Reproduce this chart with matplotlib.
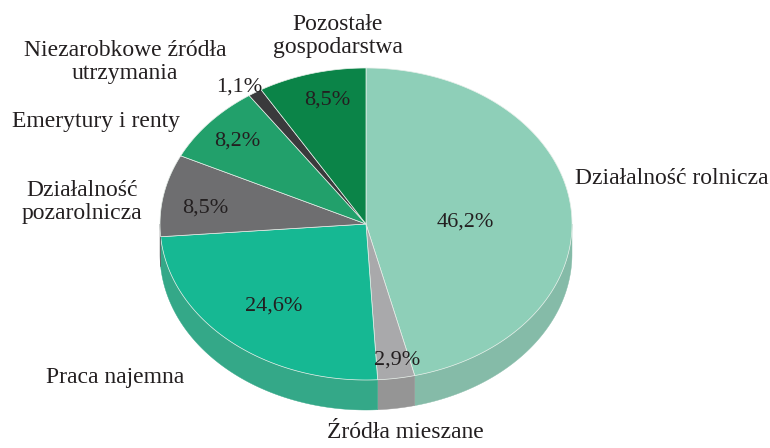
import numpy as np
import matplotlib
matplotlib.use('Agg')
import matplotlib.pyplot as plt
from matplotlib.patches import Polygon

# data, clockwise from 12 o'clock
categories = ['Działalność rolnicza', 'Źródła mieszane', 'Praca najemna',
              'Działalność\npozarolnicza', 'Emerytury i renty',
              'Niezarobkowe źródła\nutrzymania', 'Pozostałe\ngospodarstwa']
shares = [46.2, 2.9, 24.6, 8.5, 8.2, 1.1, 8.5]

top_colors = ['#8ecfb8', '#a9a9ab', '#16b893', '#6e6e70', '#22a06b', '#3a3a3c', '#0b8448']
side_colors = ['#85bba8', '#959595', '#34a888', '#5e5e60', '#1d8a5c', '#2e2e30', '#0a703d']

# layout (pixels)
cx, cy, rx, ry, depth = 366, 224, 206, 156, 30
pct_pos = [(465, 222), (397, 360), (274, 306), (205, 208), (237, 141), (239, 87), (327, 100)]
cat_pos = [(672, 178), (405, 433), (115, 378), (82, 202), (96, 122), (125, 62), (338, 36)]

plt.rcParams['font.family'] = ['Liberation Serif', 'DejaVu Serif']
txt = '#231f20'

fig = plt.figure(figsize=(7.7, 4.48), dpi=100)
ax = fig.add_axes([0, 0, 1, 1])
ax.set_xlim(0, 770)
ax.set_ylim(448, 0)
ax.axis('off')


def ell(theta):
    t = np.radians(theta)
    return cx + rx * np.sin(t), cy - ry * np.cos(t)


start = 0.0
for share, top, side in zip(shares, top_colors, side_colors):
    end = start + share * 3.6
    # visible side wall only on the front half
    a, b = max(start, 90), min(end, 270)
    if b > a:
        th = np.linspace(a, b, 120)
        x, y = ell(th)
        pts = np.column_stack([np.r_[x, x[::-1]], np.r_[y, y[::-1] + depth]])
        ax.add_patch(Polygon(pts, closed=True, fc=side, ec=side, lw=0.3))
    th = np.linspace(start, end, 200)
    x, y = ell(th)
    pts = np.column_stack([np.r_[cx, x], np.r_[cy, y]])
    ax.add_patch(Polygon(pts, closed=True, fc=top, ec='#e6efe9', lw=0.5))
    start = end

for share, (px, py) in zip(shares, pct_pos):
    ax.text(px, py, f'{share:.1f}%'.replace('.', ','), ha='center', va='center',
            fontsize=16, color=txt)

for cat, (px, py) in zip(categories, cat_pos):
    ax.text(px, py, cat, ha='center', va='center', fontsize=17, color=txt,
            linespacing=1.1)

fig.savefig('out.png', dpi=100)
